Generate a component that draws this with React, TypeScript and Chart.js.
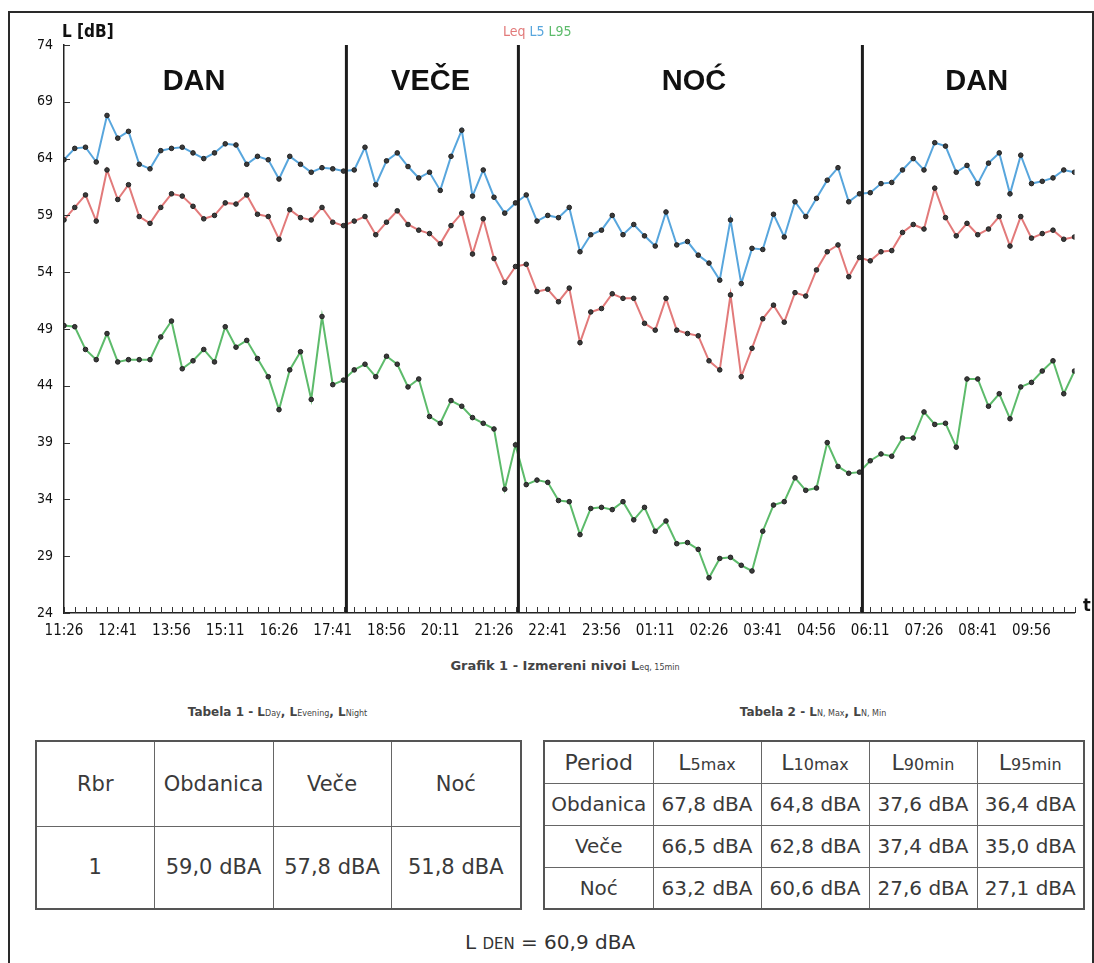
import React, { useEffect, useRef } from 'react';
import { Chart, registerables } from 'chart.js';

Chart.register(...registerables);

// ---------------- DATA ----------------
const xTickLabels = ['11:26', '12:41', '13:56', '15:11', '16:26', '17:41', '18:56', '20:11', '21:26', '22:41', '23:56', '01:11', '02:26', '03:41', '04:56', '06:11', '07:26', '08:41', '09:56'];
const yTickValues = [24, 29, 34, 39, 44, 49, 54, 59, 64, 69, 74];

const leq = [
  58.6, 59.7, 60.8, 58.5, 63.0, 60.4, 61.7, 58.9, 58.3, 59.7,
  60.9, 60.7, 59.8, 58.7, 59.0, 60.1, 60.0, 60.8, 59.1, 58.9,
  56.9, 59.5, 58.8, 58.6, 59.7, 58.4, 58.1, 58.5, 58.9, 57.3,
  58.4, 59.4, 58.2, 57.7, 57.4, 56.5, 58.1, 59.2, 55.6, 58.7,
  55.2, 53.1, 54.5, 54.7, 52.3, 52.5, 51.4, 52.6, 47.8, 50.5,
  50.8, 52.1, 51.7, 51.7, 49.5, 48.9, 51.7, 48.9, 48.6, 48.4,
  46.2, 45.4, 52.0, 44.8, 47.3, 49.9, 51.1, 49.6, 52.2, 51.9,
  54.2, 55.8, 56.4, 53.6, 55.3, 55.0, 55.8, 55.9, 57.5, 58.2,
  57.8, 61.4, 58.8, 57.2, 58.3, 57.3, 57.8, 58.9, 56.3, 58.9,
  57.0, 57.4, 57.7, 56.9, 57.1,
];

const l5 = [
  63.9, 64.9, 65.0, 63.7, 67.8, 65.8, 66.4, 63.5, 63.1, 64.7,
  64.9, 65.0, 64.5, 64.0, 64.5, 65.3, 65.2, 63.5, 64.2, 63.9,
  62.2, 64.2, 63.5, 62.8, 63.2, 63.1, 62.9, 63.0, 65.0, 61.7,
  63.8, 64.5, 63.3, 62.3, 62.8, 61.2, 64.2, 66.5, 60.7, 63.0,
  60.6, 59.2, 60.1, 60.8, 58.5, 59.0, 58.8, 59.7, 55.8, 57.3,
  57.7, 59.0, 57.3, 58.2, 57.2, 56.3, 59.3, 56.4, 56.7, 55.5,
  54.8, 53.3, 58.6, 53.0, 56.1, 56.0, 59.1, 57.1, 60.2, 58.9,
  60.5, 62.1, 63.2, 60.2, 60.9, 61.0, 61.8, 61.9, 63.0, 64.0,
  63.0, 65.4, 65.1, 62.8, 63.4, 61.8, 63.6, 64.5, 60.9, 64.3,
  61.8, 62.0, 62.3, 63.0, 62.8,
];

const l95 = [
  49.3, 49.2, 47.2, 46.3, 48.6, 46.1, 46.3, 46.3, 46.3, 48.3,
  49.7, 45.5, 46.2, 47.2, 46.1, 49.2, 47.4, 48.0, 46.4, 44.8,
  41.9, 45.4, 47.0, 42.8, 50.1, 44.1, 44.5, 45.4, 45.9, 44.8,
  46.6, 45.9, 43.9, 44.6, 41.3, 40.7, 42.7, 42.2, 41.2, 40.7,
  40.2, 34.9, 38.8, 35.3, 35.7, 35.5, 33.9, 33.8, 30.9, 33.2,
  33.3, 33.1, 33.8, 32.2, 33.3, 31.2, 32.1, 30.1, 30.2, 29.6,
  27.1, 28.8, 28.9, 28.2, 27.7, 31.2, 33.5, 33.8, 35.9, 34.8,
  35.0, 39.0, 36.9, 36.3, 36.4, 37.4, 38.0, 37.8, 39.4, 39.4,
  41.7, 40.6, 40.7, 38.6, 44.6, 44.6, 42.2, 43.3, 41.1, 43.9,
  44.3, 45.3, 46.2, 43.3, 45.3,
];

// period boundaries (18:00, 22:00, 06:00) in 15-min steps from 11:26
const periodBounds = [26.27, 42.27, 74.27];
const periodNames = ['DAN', 'VEČE', 'NOĆ', 'DAN'];
const periodLabelAt = [12.1, 34.1, 58.6, 84.9];

const table1Head = ['Rbr', 'Obdanica', 'Veče', 'Noć'];
const table1Row = ['1', '59,0 dBA', '57,8 dBA', '51,8 dBA'];

const table2Periods = ['Obdanica', 'Veče', 'Noć'];
const table2Cols = [['5', 'max'], ['10', 'max'], ['90', 'min'], ['95', 'min']];
const table2Values = [
  ['67,8 dBA', '64,8 dBA', '37,6 dBA', '36,4 dBA'],
  ['66,5 dBA', '62,8 dBA', '37,4 dBA', '35,0 dBA'],
  ['63,2 dBA', '60,6 dBA', '27,6 dBA', '27,1 dBA'],
];
const lden = '60,9 dBA';

// --------------------------------------
const NARROW = '"Liberation Sans Narrow", "Arial Narrow", "DejaVu Sans Condensed", sans-serif';
const COL_RED = '#e27a7a';
const COL_BLUE = '#58a6dd';
const COL_GREEN = '#5dbb6b';

const innerTicks = {
  id: 'innerTicks',
  afterDraw(chart: any) {
    const { ctx, chartArea } = chart;
    const x = chart.scales.x;
    const y = chart.scales.y;
    ctx.save();
    ctx.strokeStyle = '#333';
    ctx.lineWidth = 1;
    x.ticks.forEach((_t: any, i: number) => {
      const px = Math.round(x.getPixelForTick(i)) + 0.5;
      ctx.beginPath();
      ctx.moveTo(px, chartArea.bottom);
      ctx.lineTo(px, chartArea.bottom - 6);
      ctx.stroke();
    });
    y.ticks.forEach((_t: any, i: number) => {
      const py = Math.round(y.getPixelForTick(i)) + 0.5;
      ctx.beginPath();
      ctx.moveTo(chartArea.left, py);
      ctx.lineTo(chartArea.left + 6, py);
      ctx.stroke();
    });
    ctx.restore();
  },
};

const periodLabels = {
  id: 'periodLabels',
  afterDatasetsDraw(chart: any) {
    const { ctx } = chart;
    const x = chart.scales.x;
    const y = chart.scales.y;
    ctx.save();
    ctx.fillStyle = '#111';
    ctx.font = 'bold 29px "Liberation Sans", Arial, sans-serif';
    ctx.textAlign = 'center';
    ctx.textBaseline = 'middle';
    periodNames.forEach((n, i) => {
      ctx.fillText(n, x.getPixelForValue(periodLabelAt[i]), y.getPixelForValue(70.7));
    });
    ctx.restore();
  },
};

function ChartCanvas() {
  const ref = useRef<HTMLCanvasElement | null>(null);
  useEffect(() => {
    if (!ref.current) return;
    const toXY = (arr: number[]) => arr.map((v, i) => ({ x: i, y: v }));
    const lineDs = periodBounds.map((b) => ({
      data: [{ x: b, y: 24 }, { x: b, y: 74 }],
      borderColor: '#1c1c1c',
      borderWidth: 3,
      pointRadius: 0,
      fill: false,
    }));
    const seriesStyle = (color: string) => ({
      borderColor: color,
      backgroundColor: color,
      borderWidth: 2,
      pointRadius: 2.3,
      pointBackgroundColor: '#3a3a3a',
      pointBorderColor: '#222',
      pointBorderWidth: 1,
      tension: 0,
      fill: false,
    });
    const chart = new Chart(ref.current, {
      type: 'line',
      data: {
        datasets: [
          ...lineDs,
          { label: 'Leq', data: toXY(leq), ...seriesStyle(COL_RED) },
          { label: 'L5', data: toXY(l5), ...seriesStyle(COL_BLUE) },
          { label: 'L95', data: toXY(l95), ...seriesStyle(COL_GREEN) },
        ] as any,
      },
      options: {
        responsive: false,
        animation: false,
        layout: { padding: { left: 0, right: 19.5, top: 45, bottom: 0 } },
        plugins: { legend: { display: false }, tooltip: { enabled: false } },
        scales: {
          x: {
            type: 'linear',
            min: 0,
            max: 94,
            grid: { display: false, drawTicks: false },
            border: { display: true, color: '#222', width: 1.5 },
            ticks: {
              stepSize: 1,
              autoSkip: false,
              maxRotation: 0,
              minRotation: 0,
              padding: 9,
              color: '#111',
              font: { family: NARROW, size: 15 },
              callback: (v: any) => (Number(v) % 5 === 0 ? xTickLabels[Number(v) / 5] ?? '' : ''),
            },
            afterFit: (s: any) => { s.height = 32; },
          },
          y: {
            type: 'linear',
            min: 24,
            max: 74,
            grid: { display: false, drawTicks: false },
            border: { display: true, color: '#222', width: 1.5 },
            ticks: {
              padding: 11,
              color: '#111',
              font: { family: NARROW, size: 14 },
            },
            afterBuildTicks: (axis: any) => { axis.ticks = yTickValues.map((v) => ({ value: v })); },
            afterFit: (s: any) => { s.width = 64; },
          },
        },
      } as any,
      plugins: [innerTicks, periodLabels],
    });
    return () => chart.destroy();
  }, []);
  return <canvas ref={ref} width={1094} height={645} style={{ position: 'absolute', left: 0, top: 0 }} />;
}

const tdBase: React.CSSProperties = {
  border: '1.5px solid #666',
  textAlign: 'center',
  verticalAlign: 'middle',
  color: '#3a3a3a',
  padding: 0,
};

export default function App() {
  const sans = '"DejaVu Sans", Verdana, sans-serif';
  return (
    <div style={{ position: 'absolute', left: 0, top: 0, width: 1094, height: 963, overflow: 'hidden', background: '#fff', fontFamily: sans }}>
      <div style={{ position: 'absolute', left: 8, top: 11, width: 1082, height: 1000, border: '2px solid #2a2a2a' }} />
      <ChartCanvas />

      <div style={{ position: 'absolute', left: 62, top: 21, fontFamily: NARROW, fontWeight: 'bold', fontSize: 17, color: '#111' }}>L [dB]</div>
      <div style={{ position: 'absolute', left: 1083, top: 594, fontFamily: NARROW, fontWeight: 'bold', fontSize: 18, color: '#111' }}>t</div>
      <div style={{ position: 'absolute', left: 503, top: 23, fontFamily: NARROW, fontSize: 14, whiteSpace: 'nowrap' }}>
        <span style={{ color: COL_RED }}>Leq</span>{' '}
        <span style={{ color: COL_BLUE }}>L5</span>{' '}
        <span style={{ color: COL_GREEN }}>L95</span>
      </div>

      <div style={{ position: 'absolute', left: 0, width: 1130, top: 658, textAlign: 'center', fontSize: 13, fontWeight: 'bold', color: '#444', whiteSpace: 'nowrap' }}>
        Grafik 1 - Izmereni nivoi L<span style={{ fontSize: 8, fontWeight: 'normal' }}>eq, 15min</span>
      </div>

      <div style={{ position: 'absolute', left: 35, width: 485, top: 705, textAlign: 'center', fontSize: 12, fontWeight: 'bold', color: '#444', whiteSpace: 'nowrap' }}>
        Tabela 1 - L<span style={{ fontSize: 8, fontWeight: 'normal' }}>Day</span>, L<span style={{ fontSize: 8, fontWeight: 'normal' }}>Evening</span>, L<span style={{ fontSize: 8, fontWeight: 'normal' }}>Night</span>
      </div>
      <div style={{ position: 'absolute', left: 543, width: 540, top: 705, textAlign: 'center', fontSize: 12, fontWeight: 'bold', color: '#444', whiteSpace: 'nowrap' }}>
        Tabela 2 - L<span style={{ fontSize: 8, fontWeight: 'normal' }}>N, Max</span>, L<span style={{ fontSize: 8, fontWeight: 'normal' }}>N, Min</span>
      </div>

      <table style={{ position: 'absolute', left: 35, top: 740, width: 485, height: 168, borderCollapse: 'collapse', border: '2px solid #555', fontSize: 21, tableLayout: 'fixed' }}>
        <colgroup>
          <col style={{ width: 118 }} /><col style={{ width: 119 }} /><col style={{ width: 118 }} /><col style={{ width: 130 }} />
        </colgroup>
        <tbody>
          <tr style={{ height: 85 }}>{table1Head.map((h, i) => <td key={i} style={tdBase}>{h}</td>)}</tr>
          <tr style={{ height: 83 }}>{table1Row.map((h, i) => <td key={i} style={tdBase}>{h}</td>)}</tr>
        </tbody>
      </table>

      <table style={{ position: 'absolute', left: 543, top: 740, width: 540, height: 168, borderCollapse: 'collapse', border: '2px solid #555', fontSize: 20, tableLayout: 'fixed' }}>
        <colgroup>
          <col style={{ width: 109 }} /><col style={{ width: 108 }} /><col style={{ width: 108 }} /><col style={{ width: 108 }} /><col style={{ width: 107 }} />
        </colgroup>
        <tbody>
          <tr style={{ height: 42 }}>
            <td style={{ ...tdBase, fontSize: 22 }}>Period</td>
            {table2Cols.map((c, i) => (
              <td key={i} style={{ ...tdBase, fontSize: 22 }}>L<span style={{ fontSize: 16 }}>{c[0]}{c[1]}</span></td>
            ))}
          </tr>
          {table2Periods.map((p, r) => (
            <tr key={r} style={{ height: 42 }}>
              <td style={tdBase}>{p}</td>
              {table2Values[r].map((v, i) => <td key={i} style={tdBase}>{v}</td>)}
            </tr>
          ))}
        </tbody>
      </table>

      <div style={{ position: 'absolute', left: 0, width: 1100, top: 930, textAlign: 'center', fontSize: 20, color: '#333', whiteSpace: 'nowrap' }}>
        L <span style={{ fontSize: 15 }}>DEN</span> = {lden}
      </div>
    </div>
  );
}
